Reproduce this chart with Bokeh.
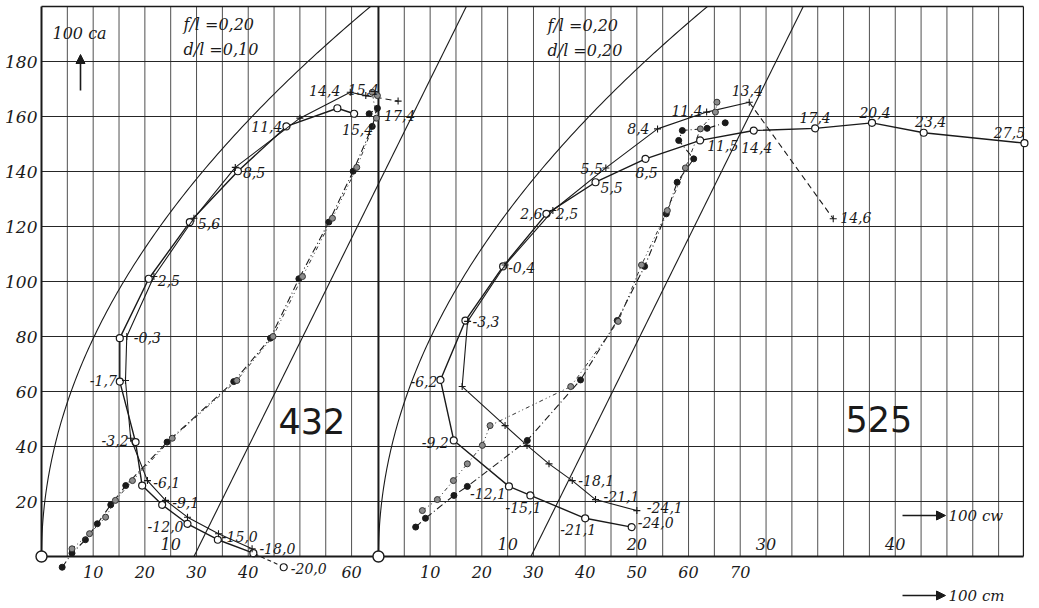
import numpy as np
from bokeh.plotting import figure
from bokeh.models import ColumnDataSource, Arrow, NormalHead, Range1d
from bokeh.core.properties import value
from bokeh.embed import file_html
from bokeh.resources import INLINE

nan = float("nan")

# ------------------------------------------------------------------ data
# Profile 432  (f/l = 0,20 ; d/l = 0,10)   series A = open circles, B = crosses
ANG_432_A = ["-20,0", "-18,0", "-15,0", "-12,0", "-9,1", "-6,1", "-3,2", "-1,7",
             "-0,3", "2,5", "5,6", "8,5", "11,4", "14,4", "15,4"]
CW_432_A = [18.75, 16.4, 13.65, 11.3, 9.34, 7.79, 7.28, 6.06, 6.06, 8.3, 11.48, 15.2, 18.96, 22.9, 24.2]
CA_432_A = [-3.9, 1.2, 6.1, 11.9, 18.8, 25.8, 41.6, 63.6, 79.4, 101.0, 121.6, 140.1, 156.4, 163.0, 161.0]
CM_432_A = [4.0, 5.9, 8.5, 10.8, 13.4, 16.3, 24.3, 37.2, 44.3, 49.8, 55.6, 60.3, 64.0, 65.0, 63.4]

ANG_432_B = ["-18,0", "-15,0", "-12,0", "-9,1", "-6,1", "-3,2", "-1,7", "-0,3",
             "2,5", "5,6", "8,5", "11,4", "14,4", "15,4", "17,4"]
CW_432_B = [16.3, 13.7, 11.3, 9.6, 8.2, 6.9, 6.5, 6.6, 8.7, 11.8, 15.0, 20.0, 23.9, 25.1, 27.6]
CA_432_B = [2.8, 8.3, 14.3, 20.4, 27.6, 43.0, 64.0, 80.0, 101.8, 123.0, 141.5, 159.4, 168.8, 167.6, 165.6]
CM_432_B = [5.9, 9.3, 12.4, 14.3, 17.6, 25.3, 37.8, 44.8, 50.5, 56.3, 61.0, 64.8, 64.0, 65.0, nan]

# Profile 525  (f/l = 0,20 ; d/l = 0,20)
ANG_525_A = ["-24,0", "-21,1", "-15,1", "-12,1", "-9,2", "-6,2", "-3,3", "-0,4", "2,6",
             "5,5", "8,5", "11,5", "14,4", "17,4", "20,4", "23,4", "27,5"]
CW_525_A = [19.6, 16.0, 11.76, 10.1, 5.83, 4.8, 6.73, 9.65, 13.0, 16.8, 20.67, 24.9, 29.05,
            33.8, 38.2, 42.2, 50.0]
CA_525_A = [10.7, 13.9, 22.2, 25.5, 42.2, 64.2, 85.8, 105.5, 124.6, 136.1, 144.6, 151.3, 154.9,
            155.7, 157.7, 154.1, 150.3]
CM_525_A = [7.2, 9.1, 14.6, 17.2, 28.8, 39.1, 46.2, 51.5, 55.7, 57.8, 61.0, 58.1, 58.8,
            63.6, 67.1, nan, nan]

ANG_525_B = ["-24,1", "-21,1", "-18,1", "-15,1", "-12,1", "-9,2", "-6,2", "-3,3", "-0,4",
             "2,5", "5,5", "8,4", "11,4", "13,4", "14,6"]
CW_525_B = [20.0, 16.8, 15.0, 13.2, 11.5, 9.8, 6.48, 6.9, 9.8, 13.5, 17.6, 21.6, 25.4, 28.7, 35.2]
CA_525_B = [16.7, 20.7, 27.6, 33.7, 40.4, 47.6, 61.8, 85.5, 106.0, 125.8, 141.3, 155.5, 161.6,
            165.2, 122.8]
CM_525_B = [8.5, 11.4, 14.5, 17.2, 20.1, 21.6, 37.2, 46.4, 50.9, 55.9, 59.4, 62.3, 65.2, 65.5, nan]

# reference straight line (in 100 cm units) and aspect ratio of the induced-drag parabola
REF_LINE_CM = [29.5, 82.2]
REF_LINE_CA = [0, 200]
ASPECT = 5

CA_TICKS = [20, 40, 60, 80, 100, 120, 140, 160, 180]
CW_TICKS_432 = [10]
CW_TICKS_525 = [10, 20, 30, 40]
CM_TICKS_432 = [10, 20, 30, 40, 60]
CM_TICKS_525 = [10, 20, 30, 40, 50, 60, 70]

# ------------------------------------------------------------------ layout
W, H = 1039, 608
PX_CW = 12.92          # px per unit of 100 cw
PX_CA = 2.75           # px per unit of 100 ca
IMG_X0, IMG_Y0 = 41, 556   # page position of the origin of panel 432
X0_432, X0_525 = 0.0, 26.08
X_END = 76.0
CA_TOP = 200
CM_TO_CW = 0.4


def ix(px):
    return (px - IMG_X0) / PX_CW


def iy(py):
    return (IMG_Y0 - py) / PX_CA


p = figure(width=W, height=H, output_backend="svg", toolbar_location=None,
           x_range=Range1d(ix(0), ix(W)), y_range=Range1d(iy(H), iy(0)),
           x_axis_location=None, y_axis_location=None, min_border=0,
           background_fill_color="white", border_fill_color="white")
p.grid.visible = False
p.outline_line_color = None

INK = "#1a1a1a"
SERIF = value("DejaVu Serif")

# grid
vx = [X0_432 + 2 * k for k in range(1, 13)] + [X0_525 + 2 * k for k in range(1, 25)]
p.segment(x0=vx, y0=[0] * len(vx), x1=vx, y1=[CA_TOP] * len(vx), line_color="#3c3c3c", line_width=0.9)
p.segment(x0=[X0_432] * len(CA_TICKS), y0=CA_TICKS, x1=[X_END] * len(CA_TICKS), y1=CA_TICKS,
          line_color="#262626", line_width=1.1)
# frame
p.segment(x0=[X0_432, X0_525], y0=[0, 0], x1=[X0_432, X0_525], y1=[CA_TOP, CA_TOP],
          line_color=INK, line_width=2)
p.segment(x0=[X_END], y0=[0], x1=[X_END], y1=[CA_TOP], line_color=INK, line_width=1.2)
p.segment(x0=[X0_432], y0=[CA_TOP], x1=[X_END], y1=[CA_TOP], line_color=INK, line_width=1.4)
p.segment(x0=[X0_432], y0=[0], x1=[X_END], y1=[0], line_color=INK, line_width=2.2)

# reference curves
ca_par = np.linspace(0, CA_TOP, 120)
cw_par = ca_par ** 2 / (100 * np.pi * ASPECT)
for x0 in (X0_432, X0_525):
    p.line(x0 + cw_par, ca_par, line_color=INK, line_width=1.1)
    p.line([x0 + c * CM_TO_CW for c in REF_LINE_CM], REF_LINE_CA, line_color=INK, line_width=1.1)

p.scatter([X0_432, X0_525], [0, 0], size=11, marker="circle", fill_color="white",
          line_color=INK, line_width=1.4)


def draw(x0, cw, ca, cm, kind, dashed_tail=None, dashed_head=None):
    xs = [x0 + v for v in cw]
    xm = [x0 + v * CM_TO_CW for v in cm]
    n = len(xs)
    a, b = 0, n
    if dashed_head:
        a = 1
        p.line(xs[:2], ca[:2], line_color=INK, line_width=1.1, line_dash="4 3")
    if dashed_tail:
        b = n - 1
        p.line(xs[-2:], ca[-2:], line_color=INK, line_width=1.1, line_dash="6 4")
    if kind == "A":
        p.line(xs[a:b], ca[a:b], line_color=INK, line_width=1.4)
        p.line(xm, ca, line_color=INK, line_width=1.1, line_dash="7 3 1 3")
        p.scatter(xm, ca, size=6, marker="circle", fill_color=INK, line_color=INK)
        p.scatter(xs, ca, size=7, marker="circle", fill_color="white", line_color=INK, line_width=1.2)
    else:
        p.line(xs[a:b], ca[a:b], line_color=INK, line_width=1.1)
        p.line(xm, ca, line_color="#333333", line_width=1.0, line_dash="4 3 1 3 1 3")
        p.scatter(xm, ca, size=6, marker="circle", fill_color="#8c8c8c", line_color="#333333")
        p.scatter(xs, ca, size=7, marker="cross", line_color=INK, line_width=1.1)


draw(X0_432, CW_432_A, CA_432_A, CM_432_A, "A", dashed_head=True)
draw(X0_432, CW_432_B, CA_432_B, CM_432_B, "B", dashed_tail=True)
draw(X0_525, CW_525_A, CA_525_A, CM_525_A, "A")
draw(X0_525, CW_525_B, CA_525_B, CM_525_B, "B", dashed_tail=True)

# angle labels: (dx px, dy px, align)
LAB_432_A = {"-20,0": (7, 1, "left"), "-18,0": (6, -5, "left"), "-15,0": (4, -3, "left"),
             "-12,0": (-4, 3, "right"), "-9,1": (10, -2, "left"), "-6,1": (11, -3, "left"),
             "-3,2": (-7, -2, "right"), "-1,7": (-3, -1, "right"), "-0,3": (14, -1, "left"),
             "2,5": (9, 2, "left"), "5,6": (8, 1, "left"), "8,5": (5, 1, "left"),
             "11,4": (-4, 0, "right"), "15,4": (19, 16, "right")}
LAB_432_B = {"14,4": (-10, -2, "right"), "15,4": (-18, -6, "left"), "17,4": (-14, 14, "left")}
LAB_525_A = {"-24,0": (6, -5, "left"), "-21,1": (-7, 11, "center"), "-15,1": (-7, 12, "center"),
             "-12,1": (-3, 7, "right"), "-9,2": (-5, 2, "right"), "-6,2": (-3, 2, "right"),
             "-3,3": (7, 1, "left"), "-0,4": (5, 1, "left"), "2,6": (-4, 0, "right"),
             "5,5": (5, 5, "left"), "8,5": (1, 14, "center"), "11,5": (7, 5, "left"),
             "14,4": (3, 17, "center"), "17,4": (0, -11, "center"), "20,4": (3, -10, "center"),
             "23,4": (7, -11, "center"), "27,5": (-15, -11, "center")}
LAB_525_B = {"-24,1": (10, -3, "left"), "-21,1": (8, -3, "left"), "-18,1": (6, 0, "left"),
             "2,5": (3, 3, "left"), "5,5": (-3, 1, "right"), "8,4": (-8, 0, "right"),
             "11,4": (-4, -2, "right"), "13,4": (-2, -12, "center"), "14,6": (7, -1, "left")}


def labels(x0, ang, cw, ca, layout):
    for align in ("left", "right", "center"):
        rows = [(x0 + cw[i], ca[i], t, layout[t][0], layout[t][1])
                for i, t in enumerate(ang) if t in layout and layout[t][2] == align]
        if not rows:
            continue
        x, y, t, dx, dy = zip(*rows)
        src = ColumnDataSource(dict(x=list(x), y=list(y), t=list(t), dx=list(dx), dy=list(dy)))
        p.text("x", "y", text="t", x_offset="dx", y_offset="dy", source=src,
               text_font=SERIF, text_font_style="italic", text_font_size="14px",
               text_align=align, text_baseline="middle", text_color=INK)


labels(X0_432, ANG_432_A, CW_432_A, CA_432_A, LAB_432_A)
labels(X0_432, ANG_432_B, CW_432_B, CA_432_B, LAB_432_B)
labels(X0_525, ANG_525_A, CW_525_A, CA_525_A, LAB_525_A)
labels(X0_525, ANG_525_B, CW_525_B, CA_525_B, LAB_525_B)

# tick labels
p.text([X0_432] * len(CA_TICKS), CA_TICKS, text=[str(v) for v in CA_TICKS], x_offset=-4,
       text_font=SERIF, text_font_style="italic", text_font_size="17px",
       text_align="right", text_baseline="middle", text_color=INK)
cwx = [X0_432 + v for v in CW_TICKS_432] + [X0_525 + v for v in CW_TICKS_525]
p.text(cwx, [0] * len(cwx), text=[str(v) for v in CW_TICKS_432 + CW_TICKS_525], y_offset=-13,
       text_font=SERIF, text_font_style="italic", text_font_size="16px",
       text_align="center", text_baseline="middle", text_color=INK)
cmx = [X0_432 + v * CM_TO_CW for v in CM_TICKS_432] + [X0_525 + v * CM_TO_CW for v in CM_TICKS_525]
p.text(cmx, [0] * len(cmx), text=[str(v) for v in CM_TICKS_432 + CM_TICKS_525], y_offset=15,
       text_font=SERIF, text_font_style="italic", text_font_size="16px",
       text_align="center", text_baseline="middle", text_color=INK)

# annotations
def note(px, py, txt, size, font=SERIF, style="italic", align="left"):
    p.text([ix(px)], [iy(py)], text=[txt], text_font=font, text_font_style=style,
           text_font_size=size, text_align=align, text_baseline="middle", text_color=INK)


note(52, 33, "100 ca", "16px")
note(183, 24, "f/l =0,20", "16px")
note(183, 49, "d/l =0,10", "16px")
note(547, 25, "f/l =0,20", "16px")
note(547, 50, "d/l =0,20", "16px")
note(278, 420, "432", "35px", font=value("DejaVu Sans"), style="normal")
note(845, 418, "525", "35px", font=value("DejaVu Sans"), style="normal")
note(948, 515, "100 cw", "15px")
note(948, 595, "100 cm", "15px")

for (xa, ya, xb, yb) in [(80, 90, 80, 54), (902, 515, 945, 515), (902, 595, 945, 595)]:
    p.add_layout(Arrow(end=NormalHead(size=9, fill_color=INK, line_color=INK),
                       x_start=ix(xa), y_start=iy(ya), x_end=ix(xb), y_end=iy(yb),
                       line_color=INK, line_width=1.6))

open("out.html", "w").write(file_html(p, INLINE))
